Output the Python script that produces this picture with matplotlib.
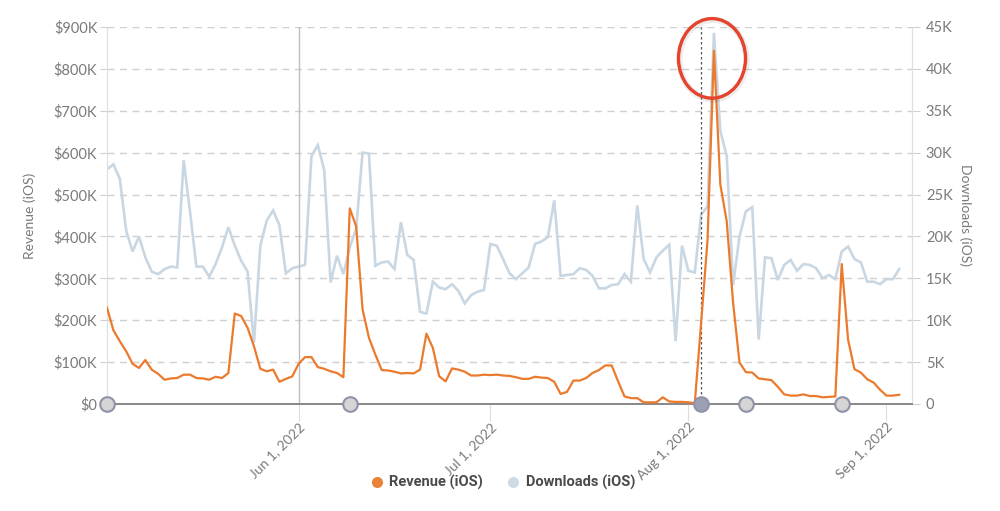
import numpy as np
import pandas as pd
import matplotlib
matplotlib.use("Agg")
import matplotlib.pyplot as plt
import matplotlib.dates as mdates
from matplotlib.lines import Line2D
from matplotlib.patches import Ellipse
from matplotlib.ticker import FuncFormatter, MultipleLocator

plt.rcParams['font.family'] = ['Lato', 'DejaVu Sans']

# daily values, 2022-05-02 .. 2022-09-03
start_date = "2022-05-02"
revenue_k = [
    230, 176, 150, 126, 96, 86, 105, 82, 72, 58,
    61, 62, 70, 70, 62, 61, 58, 65, 62, 74,
    216, 210, 182, 138, 84, 78, 82, 53, 60, 66,
    96, 112, 112, 88, 84, 78, 74, 64, 467, 424,
    226, 158, 118, 81, 80, 77, 73, 74, 73, 82,
    168, 134, 66, 54, 85, 82, 77, 68, 68, 70,
    69, 70, 68, 67, 64, 60, 60, 65, 63, 62,
    53, 24, 29, 56, 56, 62, 74, 81, 92, 92,
    54, 18, 14, 14, 4, 4, 4, 16, 6, 5,
    5, 4, 2, 195, 392, 843, 524, 436, 241, 99,
    76, 75, 61, 59, 57, 41, 23, 20, 20, 23,
    19, 19, 16, 17, 18, 334, 153, 83, 75, 59,
    51, 34, 20, 20, 22,
]
downloads_k = [
    28.0, 28.6, 26.9, 20.7, 18.2, 20.0, 17.5, 15.8, 15.5, 16.1,
    16.4, 16.3, 29.1, 22.9, 16.4, 16.4, 15.2, 16.7, 18.7, 21.1,
    18.9, 17.1, 15.8, 7.3, 18.9, 21.9, 23.1, 21.3, 15.6, 16.2,
    16.4, 16.6, 29.6, 30.9, 27.9, 14.5, 17.7, 15.5, 18.7, 20.9,
    30.0, 29.9, 16.5, 16.9, 17.0, 16.1, 21.7, 17.8, 17.2, 11.0,
    10.8, 14.6, 13.9, 13.7, 14.3, 13.5, 12.0, 13.0, 13.4, 13.6,
    19.1, 18.9, 17.3, 15.6, 14.9, 15.6, 16.3, 19.1, 19.4, 19.9,
    24.3, 15.3, 15.4, 15.5, 16.2, 16.0, 15.3, 13.8, 13.8, 14.2,
    14.3, 15.5, 14.6, 23.7, 17.3, 15.7, 17.5, 18.3, 19.0, 7.5,
    18.9, 15.9, 15.7, 22.6, 23.6, 44.3, 32.6, 29.6, 14.2, 20.0,
    23.0, 23.5, 7.7, 17.5, 17.4, 14.8, 16.6, 17.2, 15.9, 16.7,
    16.6, 16.2, 15.0, 15.4, 14.9, 18.2, 18.8, 17.3, 16.9, 14.6,
    14.6, 14.3, 14.9, 14.9, 16.1,
]
event_days = ["2022-05-02", "2022-06-09", "2022-08-03", "2022-08-10", "2022-08-25"]
selected_event = "2022-08-03"
month_ticks = ["2022-06-01", "2022-07-01", "2022-08-01", "2022-09-01"]
month_labels = ["Jun 1, 2022", "Jul 1, 2022", "Aug 1, 2022", "Sep 1, 2022"]

dates = pd.date_range(start_date, periods=len(revenue_k), freq="D")
revenue = np.array(revenue_k) * 1000
downloads = np.array(downloads_k) * 1000

ORANGE = "#ec7a2c"
BLUE = "#c9d7e3"
TXT = "#7a7a7a"

fig = plt.figure(figsize=(10, 5.11), dpi=100)
ax = fig.add_axes([0.107, 0.2094, 0.805, 0.7378])
ax2 = ax.twinx()
ax.set_zorder(ax2.get_zorder() + 1)
ax.patch.set_visible(False)

# downloads on the right axis (drawn underneath)
ax2.plot(dates, downloads, color=BLUE, lw=1.9, solid_joinstyle="miter", zorder=2)
ax2.set_ylim(0, 45000)
ax2.yaxis.set_major_locator(MultipleLocator(5000))
ax2.yaxis.set_major_formatter(FuncFormatter(lambda v, p: "0" if v == 0 else f"{int(v / 1000)}K"))
ax2.yaxis.grid(True, color="#cfcfcf", linestyle=(0, (5, 4)), lw=1)
ax2.xaxis.grid(True, color="#e2e2e2", lw=1)
ax2.set_axisbelow(True)

# revenue on the left axis
ax.plot(dates, revenue, color=ORANGE, lw=1.6, zorder=3)
ax.set_ylim(0, 900000)
ax.yaxis.set_major_locator(MultipleLocator(100000))
ax.yaxis.set_major_formatter(FuncFormatter(lambda v, p: "$0" if v == 0 else f"${int(v / 1000)}K"))

ax.set_xlim(dates[0], dates[0] + pd.Timedelta(days=126))
tick_dates = pd.to_datetime(month_ticks)
for a in (ax, ax2):
    a.set_xticks(tick_dates)
ax.set_xticklabels(month_labels, rotation=45, ha="right", rotation_mode="anchor")
ax.axvline(pd.Timestamp("2022-06-01"), color="#bdbdbd", lw=1, zorder=1)

# selected event marker line
ax.axvline(pd.Timestamp(selected_event), color="#555555", ls=(0, (2, 2)), lw=0.9, zorder=2)

# event markers on the x axis
for d in event_days:
    dark = d == selected_event
    ax.plot(pd.Timestamp(d), 0, marker="o", ms=10.5,
            mfc="#9ba0b4" if dark else "#d5d5d5", mec="#8e93a8", mew=1.5,
            clip_on=False, zorder=6)

# highlight ellipse around the launch spike (with a soft shadow)
peak_date = dates[int(np.argmax(revenue))]
center = mdates.date2num(peak_date) - 0.3
shadow = Ellipse((center + 0.15, 822000), width=10.5, height=190000, fill=False,
                 edgecolor="black", alpha=0.07, lw=4.5, clip_on=False, zorder=6)
ax.add_patch(shadow)
ell = Ellipse((center, 825000), width=10.5, height=190000, fill=False,
              edgecolor="#e5432b", lw=2.4, clip_on=False, zorder=7)
ax.add_patch(ell)

# spines and ticks
for a in (ax, ax2):
    a.spines["top"].set_visible(False)
    a.spines["left"].set_color("#e0e0e0")
    a.spines["right"].set_color("#e0e0e0")
    a.spines["bottom"].set_color("#8a8a8a")
    a.spines["bottom"].set_linewidth(1.4)
ax.tick_params(axis="y", colors="#d0d0d0", labelcolor=TXT, labelsize=10.5, length=5, pad=2)
ax2.tick_params(axis="y", colors="#d0d0d0", labelcolor=TXT, labelsize=10.5, length=6, pad=4)
ax.tick_params(axis="x", colors="#dcdcdc", labelcolor=TXT, labelsize=10, length=12, pad=0)
ax2.tick_params(axis="x", length=0, labelbottom=False)

ax.set_ylabel("Revenue (iOS)", color=TXT, fontsize=10)
ax.yaxis.set_label_coords(-0.088, 0.5)
ax2.set_ylabel("Downloads (iOS)", color=TXT, fontsize=10, rotation=270, va="bottom")
ax2.yaxis.set_label_coords(1.058, 0.5)

handles = [
    Line2D([], [], ls="none", marker="o", ms=8, mfc="#e8843a", mec="none", label="Revenue (iOS)"),
    Line2D([], [], ls="none", marker="o", ms=8, mfc="#cfdae4", mec="none", label="Downloads (iOS)"),
]
fig.legend(handles=handles, loc="center", bbox_to_anchor=(0.503, 0.055), ncol=2,
           frameon=False, handletextpad=0.45, columnspacing=1.7, handlelength=0.8,
           prop={"family": "Roboto", "weight": "bold", "size": 10.5},
           labelcolor="#4a4a4a")

fig.savefig("out.png", dpi=100)
